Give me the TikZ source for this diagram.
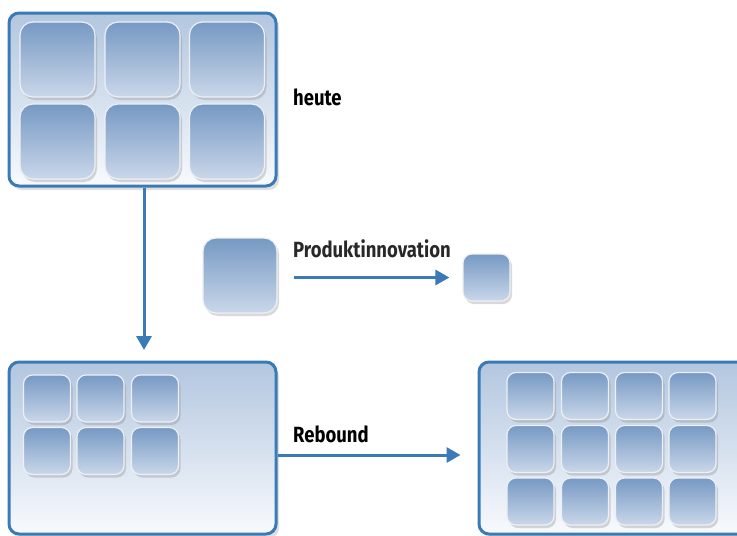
\documentclass[tikz,border=0pt]{standalone}
\usepackage{fontspec}
\newfontfamily\labelfont[FakeStretch=0.84]{Fira Sans}
\usetikzlibrary{arrows.meta,shadows}
\definecolor{frameblue}{RGB}{58,122,182}
\definecolor{boxtop}{RGB}{178,198,223}
\definecolor{boxbottom}{RGB}{248,250,253}
\definecolor{tiletop}{RGB}{118,153,196}
\definecolor{tilebottom}{RGB}{202,215,233}
\definecolor{tileedge}{RGB}{236,240,246}
\definecolor{labelgray}{RGB}{40,40,40}
\begin{document}
\begin{tikzpicture}
[x=1pt,y=-1pt,
  boxdecorate/.style={draw=frameblue,line width=3pt,rounded corners=10pt,
    top color=boxtop,bottom color=boxbottom,
    drop shadow={opacity=0.25,shadow xshift=3pt,shadow yshift=-4pt}},
  tiledecorate/.style={draw=tileedge,line width=1.2pt,rounded corners=#1,
    top color=tiletop,bottom color=tilebottom,
    drop shadow={opacity=0.3,shadow xshift=2pt,shadow yshift=-3pt}},
  tiledecorate/.default=9pt,
  labeldecorate/.style={anchor=base west,inner sep=0pt,text=labelgray,
    font=\labelfont\bfseries\fontsize{22}{22}\selectfont},
  arrowdecorate/.style={draw=frameblue,line width=3pt,
    -{Triangle[length=14pt,width=15pt]}}]
\clip (0,0) rectangle (737,536);
%% frames
\node (heutebox) at (142.5,99.5) [boxdecorate,minimum width=267pt,minimum height=173pt] {};
\node (oldbox) at (142.5,448) [boxdecorate,minimum width=267pt,minimum height=172pt] {};
\node (newbox) at (619.5,448) [boxdecorate,minimum width=281pt,minimum height=172pt] {};
%% tiles of today
\foreach \x in {57.5,142.5,227} {
  \foreach \y in {59.5,141.5} {
    \node at (\x,\y) [tiledecorate=13pt,minimum width=75pt,minimum height=75pt] {};
  }
}
%% single tiles
\node (bigtile) at (240,275.5) [tiledecorate=13pt,minimum width=74pt,minimum height=75pt] {};
\node (smalltile) at (486.5,277.5) [tiledecorate,minimum width=47pt,minimum height=47pt] {};
%% tiles after innovation
\foreach \x in {47,100.5,155} {
  \foreach \y in {398.5,451} {
    \node at (\x,\y) [tiledecorate,minimum width=47pt,minimum height=47pt] {};
  }
}
\foreach \x in {530.5,585,639,692.5} {
  \foreach \y in {396,449,501.5} {
    \node at (\x,\y) [tiledecorate,minimum width=47pt,minimum height=47pt] {};
  }
}
%% labels
\node (heute) at (293,105) [labeldecorate,text=black] {heute};
\node (innovation) at (293,257) [labeldecorate] {Produktinnovation};
\node (rebound) at (293,442) [labeldecorate,text=black] {Rebound};
%% arrows
\coordinate (down) at (144,350);
\draw[arrowdecorate] (heutebox.south -| down) -- (down);
\draw[arrowdecorate,shorten <=16pt,shorten >=13pt] (bigtile.east |- smalltile.west) -- (smalltile.west);
\draw[arrowdecorate,shorten >=17pt] ([yshift=-7pt]oldbox.east) -- ([yshift=-7pt]newbox.west);
\end{tikzpicture}
\end{document}
